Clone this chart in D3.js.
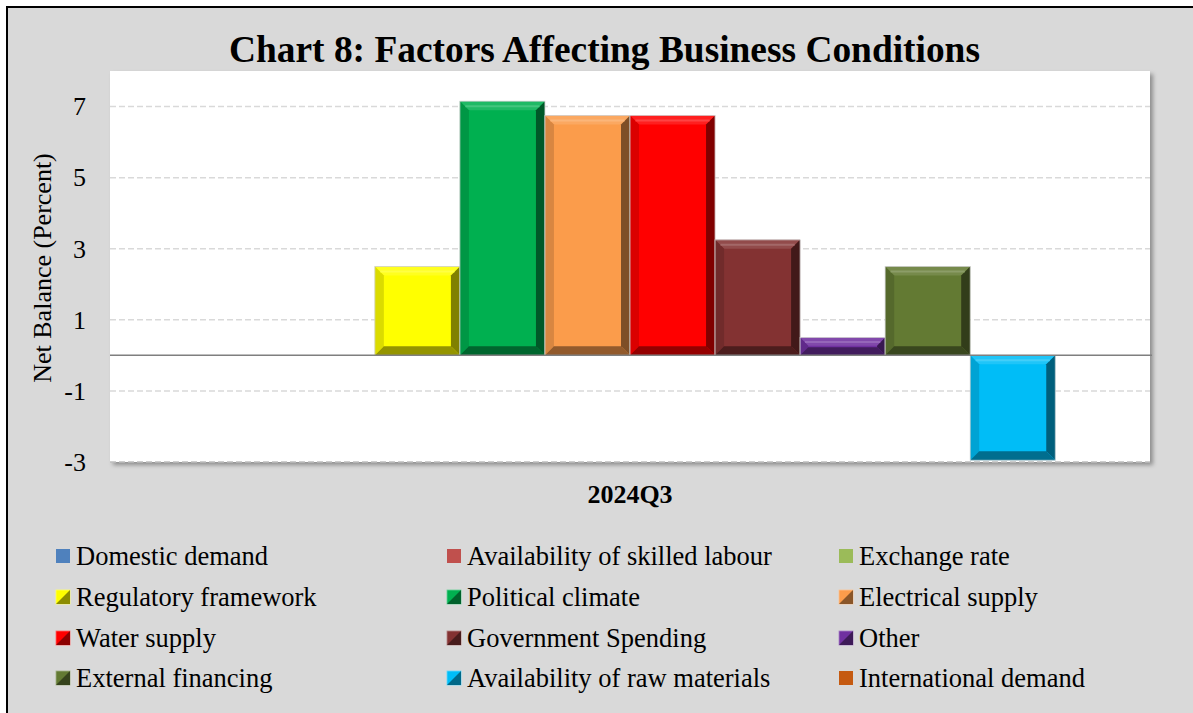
<!DOCTYPE html>
<html>
<head>
<meta charset="utf-8">
<script src="https://cdn.jsdelivr.net/npm/d3@7/dist/d3.min.js"></script>
<style>
  html, body { margin: 0; padding: 0; background: #ffffff; }
  svg { display: block; }
  text { font-family: "Liberation Serif", "Times New Roman", serif; fill: #000; }
</style>
</head>
<body>
<svg id="chart" width="1193" height="713"></svg>
<script>
// Survey quarter shown on the category axis
const categories = ["2024Q3"];

// Factors (one series each), their net balances and fill colours
const seriesNames = [
  "Domestic demand", "Availability of skilled labour", "Exchange rate",
  "Regulatory framework", "Political climate", "Electrical supply",
  "Water supply", "Government Spending", "Other",
  "External financing", "Availability of raw materials", "International demand"
];
const seriesValues = [0, 0, 0, 2.5, 7.15, 6.75, 6.75, 3.25, 0.5, 2.5, -2.95, 0];
const seriesColors = [
  "#4f81bd", "#c0504d", "#9bbb59",
  "#ffff00", "#00b050", "#fb9c4b",
  "#ff0000", "#833232", "#7030a0",
  "#637a33", "#00bdf7", "#c55a11"
];

// Value axis
const yDomain = [-3, 8];
const yTicks = [-3, -1, 1, 3, 5, 7];

const titleText = "Chart 8: Factors Affecting Business Conditions";
const yTitleText = "Net Balance (Percent)";

const svg = d3.select("#chart");
const W = 1193, H = 713;

// Chart frame
svg.append("rect")
  .attr("x", 7).attr("y", 7)
  .attr("width", W + 40).attr("height", H + 40)
  .attr("fill", "#d9d9d9")
  .attr("stroke", "#000").attr("stroke-width", 2);

const defs = svg.append("defs");
const shadow = defs.append("filter").attr("id", "plotShadow")
  .attr("x", "-5%").attr("y", "-5%").attr("width", "110%").attr("height", "115%");
shadow.append("feDropShadow")
  .attr("dx", 3).attr("dy", 3).attr("stdDeviation", 2)
  .attr("flood-color", "#000").attr("flood-opacity", 0.35);

const plot = { left: 110, top: 71, right: 1150, bottom: 462 };

svg.append("rect")
  .attr("x", plot.left).attr("y", plot.top)
  .attr("width", plot.right - plot.left).attr("height", plot.bottom - plot.top)
  .attr("fill", "#ffffff")
  .attr("filter", "url(#plotShadow)");

const y = d3.scaleLinear().domain(yDomain).range([plot.bottom, plot.top]);
const x0 = d3.scaleBand().domain(categories)
  .range([plot.left, plot.right]).paddingInner(0).paddingOuter(0.0095);
const x1 = d3.scaleBand().domain(seriesNames)
  .range([0, x0.bandwidth()]).padding(0);

// Dashed horizontal gridlines
svg.append("g")
  .selectAll("line")
  .data(yTicks)
  .join("line")
  .attr("x1", plot.left).attr("x2", plot.right)
  .attr("y1", d => y(d)).attr("y2", d => y(d))
  .attr("stroke", d => d === yDomain[0] ? "#bfbfbf" : "#d9d9d9")
  .attr("stroke-width", 1.5)
  .attr("stroke-dasharray", "6,3");

// Bars with a bevelled face
function shade(c, k) {
  const col = d3.rgb(c);
  return d3.rgb(col.r * k, col.g * k, col.b * k).formatHex();
}
function tint(c, t) {
  return d3.interpolateRgb(c, "#ffffff")(t);
}

const barsG = svg.append("g");
seriesNames.forEach((name, i) => {
  const v = seriesValues[i];
  if (v === 0) return;
  const color = seriesColors[i];
  const bx = x0(categories[0]) + x1(name);
  const bw = x1.bandwidth();
  const yTop = y(Math.max(0, v));
  const yBot = y(Math.min(0, v));
  const bh = yBot - yTop;
  const b = Math.min(9, bh / 2.2, bw / 2);
  const g = barsG.append("g");
  g.append("rect")
    .attr("x", bx).attr("y", yTop).attr("width", bw).attr("height", bh)
    .attr("fill", color);
  const pts = (arr) => arr.map(p => p.join(",")).join(" ");
  const x2 = bx + bw, y2 = yBot;
  // top
  g.append("polygon").attr("points", pts([[bx, yTop], [x2, yTop], [x2 - b, yTop + b], [bx + b, yTop + b]]))
    .attr("fill", tint(color, 0.12));
  // left
  g.append("polygon").attr("points", pts([[bx, yTop], [bx + b, yTop + b], [bx + b, y2 - b], [bx, y2]]))
    .attr("fill", shade(color, 0.86));
  // right
  g.append("polygon").attr("points", pts([[x2, yTop], [x2, y2], [x2 - b, y2 - b], [x2 - b, yTop + b]]))
    .attr("fill", shade(color, 0.5));
  // bottom
  g.append("polygon").attr("points", pts([[bx, y2], [x2, y2], [x2 - b, y2 - b], [bx + b, y2 - b]]))
    .attr("fill", shade(color, 0.58));
  // highlight streak inside the top band
  if (b > 4) {
    g.append("line")
      .attr("x1", bx + b * 0.6).attr("x2", x2 - b * 0.6)
      .attr("y1", yTop + b * 0.55).attr("y2", yTop + b * 0.55)
      .attr("stroke", tint(color, 0.3)).attr("stroke-width", 2).attr("opacity", 0.8);
  }
  g.append("rect")
    .attr("x", bx).attr("y", yTop).attr("width", bw).attr("height", bh)
    .attr("fill", "none").attr("stroke", "#d0d0d0").attr("stroke-width", 0.8);
});

// Zero line
svg.append("line")
  .attr("x1", plot.left).attr("x2", plot.right + 2)
  .attr("y1", y(0)).attr("y2", y(0))
  .attr("stroke", "#7f7f7f").attr("stroke-width", 1.5);

// Value axis labels (plain hyphen for negatives)
const yAxis = d3.axisLeft(y).tickValues(yTicks).tickSize(0).tickPadding(24)
  .tickFormat(d => String(d));
const yAxisG = svg.append("g").attr("transform", `translate(${plot.left},0)`).call(yAxis);
yAxisG.select(".domain").remove();
yAxisG.selectAll("text")
  .style("font-family", '"Liberation Serif", "Times New Roman", serif')
  .style("font-size", "26px").attr("fill", "#000");

// Category axis label
const xAxis = d3.axisBottom(x0).tickSize(0).tickPadding(0);
const xAxisG = svg.append("g").attr("transform", `translate(0,${plot.bottom})`).call(xAxis);
xAxisG.select(".domain").remove();
xAxisG.selectAll("text")
  .attr("dy", null).attr("y", 41)
  .style("font-family", '"Liberation Serif", "Times New Roman", serif')
  .style("font-size", "26px").style("font-weight", "bold").attr("fill", "#000");

// Title
svg.append("text")
  .attr("x", 604.5).attr("y", 62)
  .attr("text-anchor", "middle")
  .style("font-size", "37.4px").style("font-weight", "bold")
  .text(titleText);

// Value axis title
svg.append("text")
  .attr("transform", `translate(51,${(153 + 383) / 2}) rotate(-90)`)
  .attr("text-anchor", "middle")
  .style("font-size", "26px")
  .text(yTitleText);

// Legend: three columns, four rows
const legendCols = [56, 447, 839];
const legendRows = [556, 597, 638, 678];
const legend = svg.append("g");
seriesNames.forEach((name, i) => {
  const cx = legendCols[i % 3];
  const cy = legendRows[Math.floor(i / 3)];
  const color = seriesColors[i];
  const item = legend.append("g").attr("transform", `translate(${cx},${cy})`);
  const s = 14;
  if (seriesValues[i] !== 0) {
    item.append("rect").attr("x", 0).attr("y", -s / 2).attr("width", s).attr("height", s)
      .attr("fill", color).attr("stroke", tint(color, 0.4)).attr("stroke-width", 0.8);
    item.append("polygon")
      .attr("points", `${s},${-s / 2} ${s},${s / 2} 0,${s / 2}`)
      .attr("fill", shade(color, 0.55));
  } else {
    item.append("rect").attr("x", 0).attr("y", -s / 2).attr("width", s).attr("height", s)
      .attr("fill", color);
  }
  item.append("text")
    .attr("x", 20).attr("y", 8.5)
    .style("font-size", "26.5px")
    .text(name);
});
</script>
</body>
</html>
